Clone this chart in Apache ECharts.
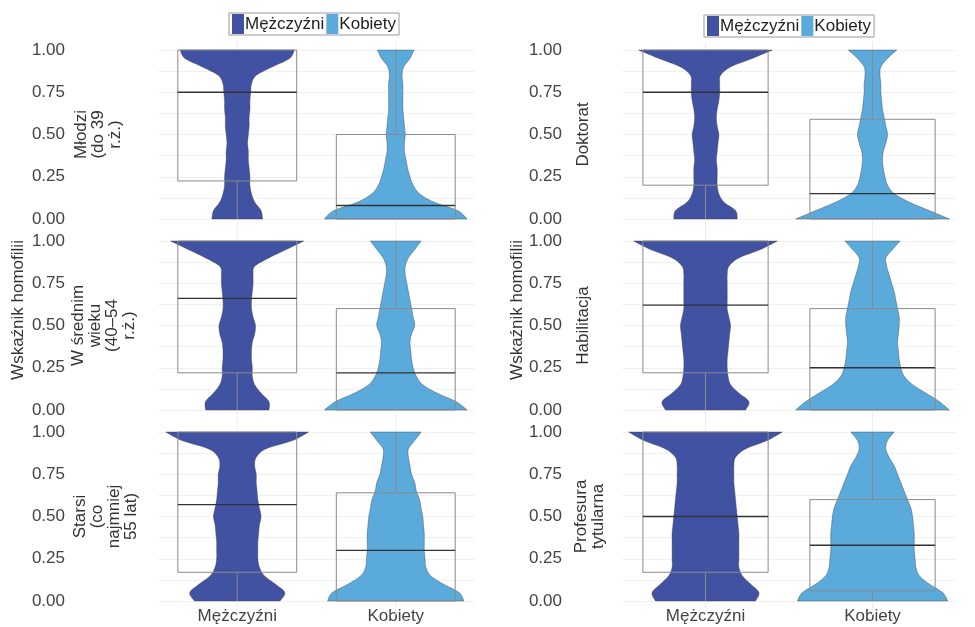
<!DOCTYPE html>
<html>
<head>
<meta charset="utf-8">
<script src="https://cdn.jsdelivr.net/npm/echarts@6/dist/echarts.min.js"></script>
<style>html,body{margin:0;padding:0;background:#fff}#main{width:975px;height:627px}</style>
</head>
<body>
<div id="main"></div>
<script>
// poziomy y dla szerokosci skrzypiec: 0, 0.05, ... 1.00
var levels = [0,0.05,0.1,0.15,0.2,0.25,0.3,0.35,0.4,0.45,0.5,0.55,0.6,0.65,0.7,0.75,0.8,0.85,0.9,0.95,1];
var categories = ['Mężczyźni', 'Kobiety'];
var rowLabelsLeft = ['Młodzi\n(do 39\nr.ż.)', 'W średnim\nwieku\n(40–54\nr.ż.)', 'Starsi\n(co\nnajmniej\n55 lat)'];
var rowLabelsRight = ['Doktorat', 'Habilitacja', 'Profesura\ntytularna'];
var yTicks = ['0.00', '0.25', '0.50', '0.75', '1.00'];

// polowa szerokosci skrzypiec (ulamek szerokosci kategorii)
var menLeft = [
	[0.16,0.15,0.11,0.09,0.08,0.08,0.075,0.07,0.07,0.065,0.07,0.075,0.075,0.08,0.08,0.085,0.09,0.12,0.22,0.33,0.36],
	[0.2,0.2,0.15,0.11,0.095,0.095,0.09,0.09,0.095,0.11,0.115,0.1,0.09,0.09,0.095,0.1,0.1,0.11,0.2,0.31,0.42],
	[0.27,0.3,0.24,0.17,0.14,0.13,0.13,0.13,0.135,0.14,0.15,0.14,0.13,0.125,0.12,0.12,0.11,0.12,0.18,0.35,0.45]
];
var womenLeft = [
	[0.45,0.39,0.24,0.15,0.11,0.09,0.075,0.065,0.055,0.055,0.06,0.055,0.05,0.045,0.045,0.045,0.045,0.04,0.05,0.09,0.115],
	[0.45,0.38,0.26,0.17,0.13,0.11,0.1,0.095,0.09,0.1,0.12,0.11,0.1,0.09,0.08,0.07,0.06,0.06,0.08,0.12,0.16],
	[0.43,0.4,0.3,0.22,0.19,0.185,0.18,0.18,0.18,0.175,0.17,0.16,0.15,0.13,0.12,0.1,0.09,0.08,0.08,0.12,0.16]
];
var menRight = [
	[0.19,0.18,0.11,0.08,0.07,0.07,0.07,0.065,0.07,0.075,0.08,0.07,0.065,0.07,0.08,0.085,0.085,0.09,0.15,0.28,0.40],
	[0.24,0.26,0.2,0.15,0.135,0.13,0.13,0.135,0.14,0.145,0.15,0.14,0.13,0.13,0.13,0.13,0.13,0.14,0.2,0.33,0.43],
	[0.3,0.32,0.27,0.22,0.2,0.2,0.2,0.2,0.2,0.195,0.19,0.185,0.18,0.175,0.17,0.17,0.17,0.18,0.24,0.37,0.46]
];
var womenRight = [
	[0.46,0.34,0.22,0.13,0.09,0.075,0.065,0.06,0.065,0.08,0.09,0.08,0.07,0.06,0.055,0.05,0.05,0.045,0.05,0.09,0.145],
	[0.46,0.4,0.32,0.24,0.19,0.17,0.16,0.155,0.15,0.155,0.16,0.16,0.15,0.14,0.13,0.115,0.1,0.085,0.08,0.12,0.165],
	[0.45,0.42,0.34,0.28,0.26,0.255,0.25,0.25,0.25,0.245,0.24,0.23,0.21,0.19,0.17,0.15,0.13,0.1,0.08,0.09,0.13]
];
// [q1, mediana, q3] dla mezczyzn / kobiet
var boxMenLeft = [[0.225,0.75,1.0],[0.22,0.66,1.0],[0.17,0.57,1.0]];
var boxWomenLeft = [[0,0.08,0.5],[0,0.22,0.6],[0,0.3,0.64]];
var boxMenRight = [[0.2,0.75,1.0],[0.22,0.62,1.0],[0.17,0.5,1.0]];
var boxWomenRight = [[0,0.15,0.59],[0,0.25,0.6],[0.06,0.33,0.6]];

var colors = ['#4152a3', '#5aaadc'];
var rowTops = [50, 241, 432];
var rowH = 169;

var grids = [], xAxes = [], yAxes = [], series = [];

// gladka krzywa przez punkty (catmull-rom), tylko do rysowania konturu
function smoothSide(pts) {
	var out = [];
	for (var i = 0; i < pts.length - 1; i++) {
		var p0 = pts[Math.max(i - 1, 0)], p1 = pts[i], p2 = pts[i + 1], p3 = pts[Math.min(i + 2, pts.length - 1)];
		for (var k = 0; k < 6; k++) {
			var t = k / 6, t2 = t * t, t3 = t2 * t;
			out.push([
				0.5 * (2 * p1[0] + (-p0[0] + p2[0]) * t + (2 * p0[0] - 5 * p1[0] + 4 * p2[0] - p3[0]) * t2 + (-p0[0] + 3 * p1[0] - 3 * p2[0] + p3[0]) * t3),
				0.5 * (2 * p1[1] + (-p0[1] + p2[1]) * t + (2 * p0[1] - 5 * p1[1] + 4 * p2[1] - p3[1]) * t2 + (-p0[1] + 3 * p1[1] - 3 * p2[1] + p3[1]) * t3)
			]);
		}
	}
	out.push(pts[pts.length - 1]);
	return out;
}

function violin(catIdx, widths) {
	return function (params, api) {
		var c = api.coord([catIdx, 0]);
		var top = api.coord([catIdx, 1]);
		var band = api.size([1, 0])[0];
		var left = [], right = [];
		for (var i = 0; i < levels.length; i++) {
			var p = api.coord([catIdx, levels[i]]);
			left.push([c[0] - widths[i] * band, p[1]]);
			right.push([c[0] + widths[i] * band, p[1]]);
		}
		var pts = smoothSide(left).concat(smoothSide(right).reverse());
		return {
			type: 'group',
			children: [
				{ type: 'line', shape: { x1: c[0], y1: c[1] + 14, x2: c[0], y2: top[1] - 8 }, style: { stroke: '#eeeeee', lineWidth: 1 } },
				{ type: 'polygon', shape: { points: pts }, style: { fill: api.visual('color'), stroke: '#3a3a3a', lineWidth: 0.4 } }
			]
		};
	};
}
function box(catIdx, q) {
	return function (params, api) {
		var band = api.size([1, 0])[0];
		var c0 = api.coord([catIdx, 0]), c1 = api.coord([catIdx, q[0]]);
		var cm = api.coord([catIdx, q[1]]), c3 = api.coord([catIdx, q[2]]);
		var top = api.coord([catIdx, 1]);
		var hw = band * 0.375, x = c0[0];
		var grey = '#8a8a8a';
		return {
			type: 'group',
			children: [
				{ type: 'line', shape: { x1: x, y1: c0[1], x2: x, y2: c1[1] }, style: { stroke: grey, lineWidth: 1 } },
				{ type: 'line', shape: { x1: x, y1: c3[1], x2: x, y2: top[1] }, style: { stroke: grey, lineWidth: 1 } },
				{ type: 'rect', shape: { x: x - hw, y: c3[1], width: hw * 2, height: c1[1] - c3[1] }, style: { fill: 'none', stroke: grey, lineWidth: 1 } },
				{ type: 'line', shape: { x1: x - hw, y1: cm[1], x2: x + hw, y2: cm[1] }, style: { stroke: '#333', lineWidth: 1.3 } }
			]
		};
	};
}

function panel(col, row, menW, womenW, boxM, boxW) {
	var idx = grids.length;
	grids.push({
		left: col === 0 ? 158 : 622, width: col === 0 ? 317 : 334,
		top: rowTops[row], height: rowH
	});
	xAxes.push({
		gridIndex: idx, type: 'category', data: categories,
		axisLine: { show: false }, axisTick: { show: false },
		axisLabel: { show: row === 2, color: '#444', fontSize: 17, margin: 7 },
		splitLine: { show: false }
	});
	yAxes.push({
		gridIndex: idx, type: 'value', min: 0, max: 1, interval: 0.125,
		axisLine: { show: false }, axisTick: { show: false },
		axisLabel: {
			color: '#444', fontSize: 17, margin: col === 0 ? 93 : 60,
			formatter: function (v) { var s = v.toFixed(2); return yTicks.indexOf(s) >= 0 ? s : ''; }
		},
		splitLine: { lineStyle: { color: '#f0f0f0' } }
	});
	var sets = [[0, menW, boxM, categories[0], colors[0]], [1, womenW, boxW, categories[1], colors[1]]];
	sets.forEach(function (s) {
		series.push({
			type: 'custom', name: s[3], xAxisIndex: idx, yAxisIndex: idx,
			itemStyle: { color: s[4] }, data: [[s[0], 0]],
			renderItem: violin(s[0], s[1]), silent: true, z: 2
		});
		series.push({
			type: 'custom', xAxisIndex: idx, yAxisIndex: idx, data: [[s[0], 0]],
			renderItem: box(s[0], s[2]), silent: true, z: 3
		});
	});
}

for (var r = 0; r < 3; r++) {
	panel(0, r, menLeft[r], womenLeft[r], boxMenLeft[r], boxWomenLeft[r]);
	panel(1, r, menRight[r], womenRight[r], boxMenRight[r], boxWomenRight[r]);
}

var textStyle = { fill: '#333', fontFamily: 'Liberation Sans', align: 'center', verticalAlign: 'middle' };
function rotText(x, y, t, size) {
	return {
		type: 'text', x: x, y: y, rotation: Math.PI / 2,
		style: Object.assign({}, textStyle, { text: t, fontSize: size || 17, lineHeight: size || 17 })
	};
}
var graphics = [
	rotText(18, 310, 'Wskaźnik homofilii', 17),
	rotText(517, 310, 'Wskaźnik homofilii', 17)
];
var col0x = [98, 104, 106];
var col1x = [583, 583, 590];
for (var r2 = 0; r2 < 3; r2++) {
	graphics.push(rotText(col0x[r2], rowTops[r2] + rowH / 2, rowLabelsLeft[r2]));
	graphics.push(rotText(col1x[r2], rowTops[r2] + rowH / 2, rowLabelsRight[r2]));
}

var legendBase = {
	data: categories, icon: 'rect', itemWidth: 12, itemHeight: 20, itemGap: 2,
	borderColor: '#999', borderWidth: 1, padding: [1, 3],
	textStyle: { fontSize: 17, color: '#222', padding: [0, 0, 0, -4] }
};

var chart = echarts.init(document.getElementById('main'));
chart.setOption({
	backgroundColor: '#fff',
	textStyle: { fontFamily: 'Liberation Sans' },
	animation: false,
	legend: [
		Object.assign({ left: 229, top: 13 }, legendBase),
		Object.assign({ left: 704, top: 15 }, legendBase)
	],
	grid: grids, xAxis: xAxes, yAxis: yAxes, series: series,
	graphic: graphics
});
</script>
</body>
</html>
